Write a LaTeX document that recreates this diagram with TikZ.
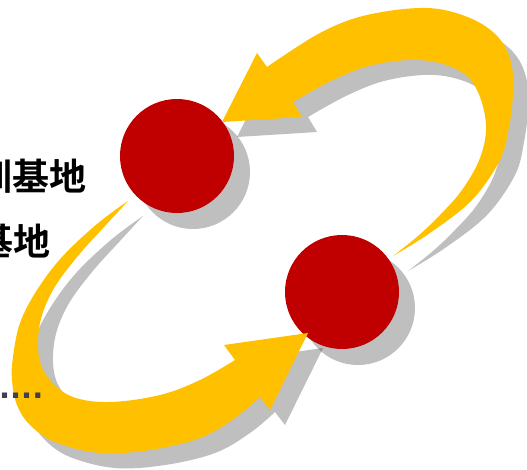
\documentclass[tikz,border=0pt]{standalone}
\usepackage{fontspec}
\newfontfamily\cjk[BoldFont={Noto Sans CJK SC Bold}]{Noto Sans CJK SC}
\newfontfamily\dejavu{DejaVu Sans}
\usetikzlibrary{shadows}

\definecolor{baseRed}{HTML}{C00000}
\definecolor{loopYellow}{HTML}{FFC000}
\definecolor{dotGray}{HTML}{404050}

\begin{document}
\begin{tikzpicture}[
    x=1pt, y=-1pt, % pixel grid, y downwards
    % --- MINIMALIST STYLES ---
    base_shadow/.style={drop shadow={shadow xshift=16pt, shadow yshift=-16pt, fill=black, opacity=0.25}},
    base_node/.style={circle, fill=baseRed, minimum size=114pt, inner sep=0pt, base_shadow},
    loop_arrow/.style={fill=loopYellow, drop shadow={shadow xshift=15pt, shadow yshift=-15pt, fill=black, opacity=0.25}},
    label_text/.style={font=\cjk\bfseries\fontsize{37}{40}\selectfont, inner sep=0pt, anchor=base east},
    more_text/.style={font=\dejavu\bfseries\fontsize{29}{32}\selectfont, text=dotGray, inner sep=0pt, anchor=base west}
]
\useasboundingbox (0,0) rectangle (527,469);
\clip (0,0) rectangle (527,469);

% --- LEFT TEXT (cut by the frame) ---
\node (label_top) [label_text] at (87,190) {训基地};
\node (label_bottom) [label_text] at (51,255) {基地};

% --- BASES ---
\node (base_a) [base_node] at (177,156) {};
\node (base_b) [base_node] at (342,292) {};

% --- LOOP ARROWS ---
\fill[loop_arrow] plot[smooth, tension=0.6] coordinates {(393,256) (430,233) (472,200) (500,160) (509,127) (513,93) (511,62) (498,37) (470,18) (427,8) (367,15) (320,33) (267,67)}
    -- (257,53) -- (222,122) -- (302,117) -- (293,102)
    -- plot[smooth, tension=0.6] coordinates {(293,102) (333,80) (373,65) (420,60) (458,70) (477,90) (486,125) (480,158) (462,190) (440,215) (418,236) (393,256)} -- cycle;

\fill[loop_arrow] plot[smooth, tension=0.6] coordinates {(128,201) (97,224) (62,257) (37,290) (20,323) (13,357) (12,380) (17,405) (30,425) (55,442) (100,453) (150,450) (200,438) (235,418) (260,397)}
    -- (270,410) -- (308,333) -- (224,345) -- (235,360)
    -- plot[smooth, tension=0.6] coordinates {(235,360) (200,380) (160,395) (110,402) (73,397) (50,380) (39,357) (40,323) (53,290) (77,257) (105,226) (128,201)} -- cycle;

% dots lie over the lower arrow
\node (label_more) [more_text] at (-1,398) {....};

\end{tikzpicture}
\end{document}
